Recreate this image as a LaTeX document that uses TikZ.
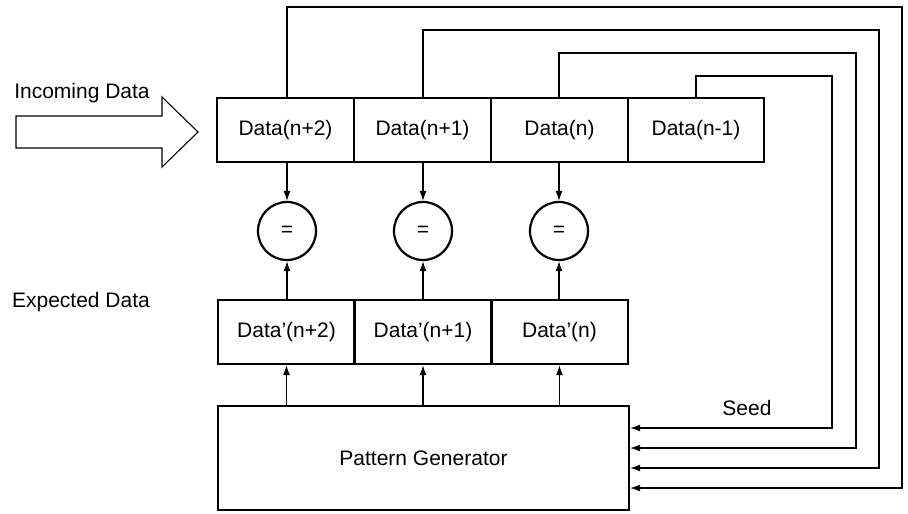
\documentclass[tikz,border=0pt]{standalone}
\usepackage{fontspec}
\setmainfont{Liberation Sans}
\usetikzlibrary{arrows.meta}
\begin{document}
\begin{tikzpicture}[x=1pt,y=-1pt,
  every node/.style={font=\fontsize{21}{25}\selectfont, inner sep=0pt},
  regbox/.style={draw, line width=2.4pt, minimum width=137pt, minimum height=64pt},
  cmpnode/.style={draw, circle, line width=2.2pt, minimum size=58pt},
  genbox/.style={draw, line width=2.4pt, minimum width=411pt, minimum height=104pt},
  conn/.style={line width=1.2pt, -{Latex[length=10pt,width=7pt]}},
  fb/.style={line width=1.2pt, -{Latex[length=10pt,width=7pt]}},
  bigarrow/.style={draw, line width=1.1pt, line join=miter}
]
\useasboundingbox (0,0) rectangle (908,514);

% top register
\node[regbox] (d2) at (285.5,130) {Data(n+2)};
\node[regbox] (d1) at (422.5,130) {Data(n+1)};
\node[regbox] (d0) at (559.5,130) {Data(n)};
\node[regbox, minimum width=136pt] (dm) at (696,130) {Data(n-1)};

% comparators
\node[cmpnode] (e2) at (287,231) {=};
\node[cmpnode] (e1) at (423,231) {=};
\node[cmpnode] (e0) at (559,231) {=};

% expected register
\node[regbox] (p2) at (286.5,332) {Data’(n+2)};
\node[regbox] (p1) at (423,332) {Data’(n+1)};
\node[regbox] (p0) at (559.5,332) {Data’(n)};

% pattern generator
\node[genbox] (pg) at (423.5,458) {Pattern Generator};

% labels
\node (inc) at (82,93) {Incoming Data};
\node (exp) at (81,302) {Expected Data};
\node (seed) at (747,408) {Seed};

% incoming data arrow
\draw[bigarrow] (16,116) -- (162,116) -- (162,97) -- (198,132) -- (162,167) -- (162,148) -- (16,148) -- cycle;

% data to comparators
\draw[conn] (d2.south -| e2) -- (e2.north);
\draw[conn] (d1.south -| e1) -- (e1.north);
\draw[conn] (d0.south -| e0) -- (e0.north);

% expected to comparators
\draw[conn] (p2.north -| e2) -- (e2.south);
\draw[conn] (p1.north -| e1) -- (e1.south);
\draw[conn] (p0.north -| e0) -- (e0.south);

% generator to expected
\draw[conn] (pg.north -| p2) -- (p2.south);
\draw[conn] (pg.north -| p1) -- (p1.south);
\draw[conn] (pg.north -| p0) -- (p0.south);

% feedback lines
\coordinate (c2) at (902,7);
\coordinate (c1) at (879,30);
\coordinate (c0) at (856,53);
\coordinate (cm) at (832,76);
\draw[fb] (d2.north -| e2) |- (c2) |- (pg.east |- 0,488);
\draw[fb] (d1.north -| e1) |- (c1) |- (pg.east |- 0,468);
\draw[fb] (d0.north -| e0) |- (c0) |- (pg.east |- 0,448);
\draw[fb] (dm.north) |- (cm) |- (pg.east |- 0,428);
\end{tikzpicture}
\end{document}
